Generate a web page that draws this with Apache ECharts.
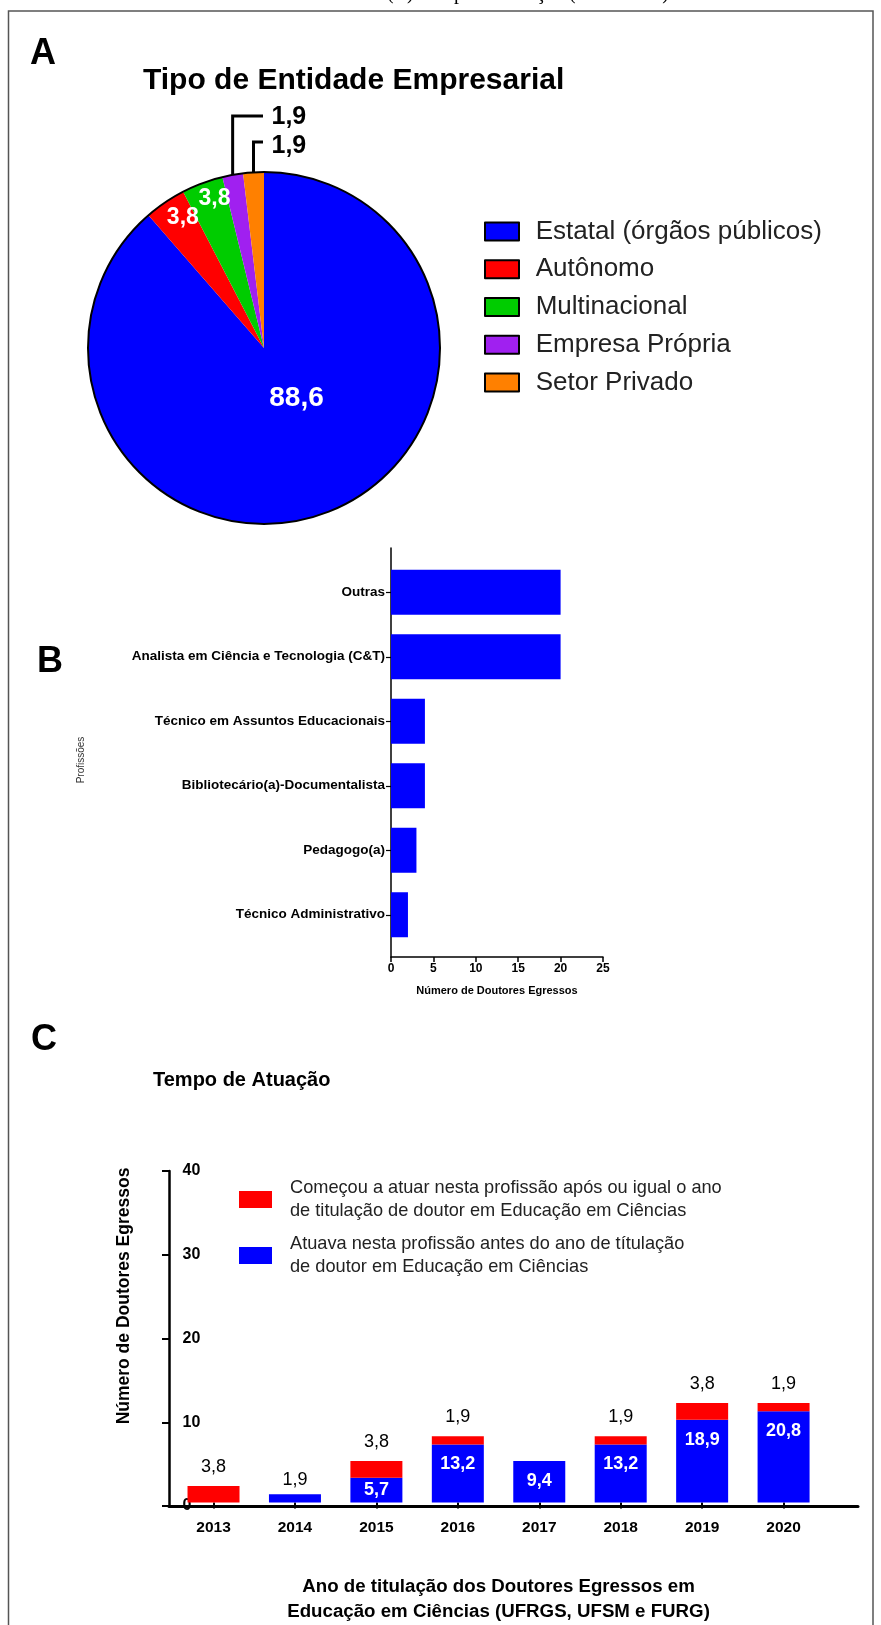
<!DOCTYPE html>
<html>
<head>
<meta charset="utf-8">
<script src="https://cdn.jsdelivr.net/npm/echarts@6/dist/echarts.min.js"></script>
<style>
html,body{margin:0;padding:0;background:#fff;}
#chart{width:881px;height:1625px;}
</style>
</head>
<body>
<div id="chart"></div>
<script>
// ---- Data ----
var entidadeNomes = ['Estatal (órgãos públicos)', 'Autônomo', 'Multinacional', 'Empresa Própria', 'Setor Privado'];
var entidadeValores = [88.6, 3.8, 3.8, 1.9, 1.9];
var entidadeCores = ['#0000FF', '#FF0000', '#00CC00', '#A020F0', '#FF8000'];

var profissoes = ['Outras', 'Analista em Ciência e Tecnologia (C&T)', 'Técnico em Assuntos Educacionais', 'Bibliotecário(a)-Documentalista', 'Pedagogo(a)', 'Técnico Administrativo'];
var profissoesValores = [20, 20, 4, 4, 3, 2];
var profTicks = [0, 5, 10, 15, 20, 25];

var anos = ['2013', '2014', '2015', '2016', '2017', '2018', '2019', '2020'];
var atuavaAntes = [0, 1, 3, 7, 5, 7, 10, 11];
var comecouApos = [2, 0, 2, 1, 0, 1, 2, 1];
var totalEgressos = 53;
var tempoTicks = [0, 10, 20, 30, 40];

var serieApos = 'Começou a atuar nesta profissão após ou igual o ano de titulação de doutor em Educação em Ciências';
var serieAntes = 'Atuava nesta profissão antes do ano de títulação de doutor em Educação em Ciências';
var legendaApos = 'Começou a atuar nesta profissão após ou igual o ano\nde titulação de doutor em Educação em Ciências';
var legendaAntes = 'Atuava nesta profissão antes do ano de títulação\nde doutor em Educação em Ciências';

// ---- Helpers ----
var FONT = 'Liberation Sans, Arial, sans-serif';
function pct(v) { return (v / totalEgressos * 100).toFixed(1).replace('.', ','); }
var PIE_C = [264, 348], PIE_R = 176;
// label nudges inside the pie (blue, red, green)
var pieLabelShift = [[0.6, -34.5], [-30, -55.5], [-17.6, -64.5]];

var chart = echarts.init(document.getElementById('chart'), null, {renderer: 'canvas'});

var pieData = entidadeNomes.map(function (n, i) {
  var d = {name: n, value: entidadeValores[i], itemStyle: {color: entidadeCores[i]}};
  if (i === 0) d.label = {fontSize: 28};
  if (i >= 3) {
    d.label = {position: 'outside', color: '#000', fontSize: 25};
    d.labelLine = {show: true, length: 10, length2: 10, smooth: false, lineStyle: {color: '#000', width: 3}};
  }
  return d;
});

var antesData = atuavaAntes.map(function (v, i) {
  var item = {value: v};
  if (v > 0 && v <= 1 && !comecouApos[i]) {
    item.label = {position: 'top', distance: 5, color: '#000', fontWeight: 'normal'};
  } else if (v > 0 && v <= 3) {
    item.label = {position: 'inside'};
  }
  return item;
});

var option = {
  backgroundColor: '#fff',
  animation: false,
  textStyle: {fontFamily: FONT},
  graphic: [
    {type: 'rect', shape: {x: 8.5, y: 11, width: 864.5, height: 1640}, style: {fill: 'none', stroke: '#555', lineWidth: 1.5}, z: 100},
    {type: 'text', x: 528, y: 4, style: {text: '(C) Tempo de atuação (2013-2020)', font: '20px "Liberation Serif", serif', fill: '#000', textAlign: 'center', textVerticalAlign: 'bottom'}},
    {type: 'text', x: 43, y: 54, style: {text: 'A', font: 'bold 36px ' + FONT, fill: '#000', textAlign: 'center', textVerticalAlign: 'middle'}},
    {type: 'text', x: 143, y: 81, style: {text: 'Tipo de Entidade Empresarial', font: 'bold 30px ' + FONT, fill: '#000', textAlign: 'left', textVerticalAlign: 'middle'}},
    {type: 'circle', shape: {cx: PIE_C[0], cy: PIE_C[1], r: PIE_R}, style: {fill: 'none', stroke: '#000', lineWidth: 2}, z: 50},
    {type: 'text', x: 50, y: 662, style: {text: 'B', font: 'bold 36px ' + FONT, fill: '#000', textAlign: 'center', textVerticalAlign: 'middle'}},
    {type: 'text', x: 81, y: 760, rotation: Math.PI / 2, style: {text: 'Profissões', font: '10px ' + FONT, fill: '#333', textAlign: 'center', textVerticalAlign: 'middle'}},
    {type: 'text', x: 44, y: 1040, style: {text: 'C', font: 'bold 36px ' + FONT, fill: '#000', textAlign: 'center', textVerticalAlign: 'middle'}},
    {type: 'text', x: 153, y: 1080, style: {text: 'Tempo de Atuação', font: 'bold 20px ' + FONT, fill: '#000', textAlign: 'left', textVerticalAlign: 'middle'}},
    {type: 'text', x: 124, y: 1296, rotation: Math.PI / 2, style: {text: 'Número de Doutores Egressos', font: 'bold 17.5px ' + FONT, fill: '#000', textAlign: 'center', textVerticalAlign: 'middle'}}
  ],
  legend: [
    {
      data: entidadeNomes, orient: 'vertical', left: 479, top: 213.4,
      itemWidth: 34, itemHeight: 18, itemGap: 11.8, icon: 'rect', selectedMode: false,
      itemStyle: {borderColor: '#000', borderWidth: 2},
      textStyle: {fontSize: 26, lineHeight: 26, color: '#222', fontFamily: FONT, padding: [0, 0, 0, 11.7]}
    },
    {
      data: [serieApos, serieAntes], orient: 'vertical', left: 234, top: 1171.5,
      itemWidth: 33, itemHeight: 17, itemGap: 10, icon: 'rect', selectedMode: false,
      itemStyle: {borderWidth: 0},
      formatter: function (n) { return n === serieApos ? legendaApos : legendaAntes; },
      textStyle: {fontSize: 18.2, lineHeight: 23, color: '#222', fontFamily: FONT, padding: [0, 0, 0, 13]}
    }
  ],
  grid: [
    {left: 391, top: 548, width: 212, height: 409},
    {left: 391, top: 560, width: 212, height: 387},
    {left: 169, top: 1171, width: 689, height: 335},
    {left: 172.8, top: 1171, width: 651.5, height: 335}
  ],
  xAxis: [
    {
      gridIndex: 0, type: 'value', min: profTicks[0], max: profTicks[profTicks.length - 1], interval: 5,
      axisLine: {show: true, lineStyle: {color: '#000', width: 1.5}},
      axisTick: {show: true, length: 5, lineStyle: {color: '#000', width: 1.5}},
      axisLabel: {color: '#000', fontWeight: 'bold', fontSize: 12, margin: 6, fontFamily: FONT},
      splitLine: {show: false},
      name: 'Número de Doutores Egressos', nameLocation: 'middle', nameGap: 28,
      nameTextStyle: {color: '#000', fontWeight: 'bold', fontSize: 11, fontFamily: FONT}
    },
    {gridIndex: 1, type: 'value', min: 0, max: 25, show: false},
    {
      gridIndex: 2, type: 'value', min: 0, max: 1,
      axisLine: {show: true, onZero: false, lineStyle: {color: '#000', width: 3}},
      axisTick: {show: false}, axisLabel: {show: false}, splitLine: {show: false}
    },
    {
      gridIndex: 3, type: 'category', data: anos,
      axisLine: {show: false},
      axisTick: {show: true, alignWithLabel: true, length: 6, lineStyle: {color: '#000', width: 2}},
      axisLabel: {color: '#000', fontWeight: 'bold', fontSize: 15.5, margin: 17, fontFamily: FONT},
      splitLine: {show: false},
      name: 'Ano de titulação dos Doutores Egressos em\nEducação em Ciências (UFRGS, UFSM e FURG)',
      nameLocation: 'middle', nameGap: 71.5,
      nameTextStyle: {color: '#000', fontWeight: 'bold', fontSize: 18.7, lineHeight: 25, fontFamily: FONT}
    }
  ],
  yAxis: [
    {
      gridIndex: 0, type: 'value', min: 0, max: 1,
      axisLine: {show: true, lineStyle: {color: '#000', width: 1.5}},
      axisTick: {show: false}, axisLabel: {show: false}, splitLine: {show: false}
    },
    {
      gridIndex: 1, type: 'category', data: profissoes, inverse: true,
      axisLine: {show: false},
      axisTick: {show: true, alignWithLabel: true, length: 5, lineStyle: {color: '#000', width: 1.2}},
      axisLabel: {color: '#000', fontWeight: 'bold', fontSize: 13.5, margin: 6, fontFamily: FONT},
      splitLine: {show: false}
    },
    {
      gridIndex: 2, type: 'value', min: tempoTicks[0], max: tempoTicks[tempoTicks.length - 1], interval: 10,
      axisLine: {show: true, onZero: false, lineStyle: {color: '#000', width: 2.5}},
      axisTick: {show: true, length: 7, lineStyle: {color: '#000', width: 2}},
      axisLabel: {inside: true, color: '#000', fontWeight: 'bold', fontSize: 16, margin: 13.5, fontFamily: FONT},
      splitLine: {show: false}
    },
    {gridIndex: 3, type: 'value', min: 0, max: 40, show: false}
  ],
  series: [
    {
      type: 'pie', center: PIE_C, radius: PIE_R, startAngle: 90, clockwise: true,
      avoidLabelOverlap: false, silent: true,
      data: pieData,
      label: {show: true, position: 'inside', color: '#fff', fontWeight: 'bold', fontSize: 23, fontFamily: FONT,
        formatter: function (p) { return String(p.value).replace('.', ','); }},
      labelLine: {show: false},
      labelLayout: function (p) {
        var i = p.dataIndex;
        if (i >= 3) {
          var s = p.labelLinePoints && p.labelLinePoints[0];
          var yl = i === 3 ? 116 : 142;
          var xe = 263;
          var out = {x: 271.5, y: i === 3 ? 117 : 146, align: 'left', verticalAlign: 'middle'};
          if (s) out.labelLinePoints = [[s[0], s[1]], [s[0], yl], [xe, yl]];
          return out;
        }
        return {dx: pieLabelShift[i][0], dy: pieLabelShift[i][1]};
      }
    },
    {
      type: 'bar', xAxisIndex: 1, yAxisIndex: 1, data: profissoesValores, barWidth: 45,
      itemStyle: {color: '#0000FF'}, silent: true
    },
    {
      name: serieAntes, type: 'bar', xAxisIndex: 3, yAxisIndex: 3, stack: 'tempo', barWidth: 52,
      data: antesData, itemStyle: {color: '#0000FF'}, silent: true,
      label: {show: true, position: 'insideTop', distance: 11, color: '#fff', fontWeight: 'bold', fontSize: 18, fontFamily: FONT,
        formatter: function (p) { return p.value ? pct(p.value) : ''; }}
    },
    {
      name: serieApos, type: 'bar', xAxisIndex: 3, yAxisIndex: 3, stack: 'tempo', barWidth: 52,
      data: comecouApos, itemStyle: {color: '#FF0000'}, silent: true,
      label: {show: true, position: 'top', distance: 10, color: '#000', fontSize: 18, fontFamily: FONT,
        formatter: function (p) { return p.value ? pct(p.value) : ''; }}
    }
  ]
};
chart.setOption(option);
</script>
</body>
</html>
